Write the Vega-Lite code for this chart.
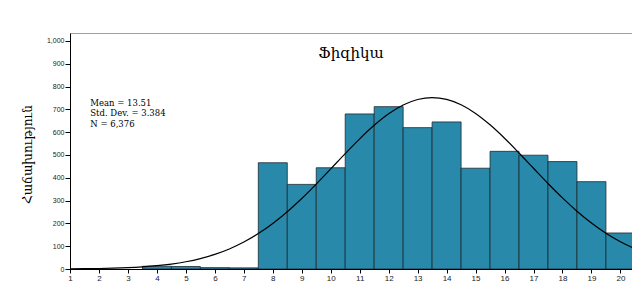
{
  "$schema": "https://vega.github.io/schema/vega-lite/v6.json",
  "width": 562,
  "height": 236,
  "autosize": {"type": "none"},
  "padding": {"left": 70, "top": 33, "right": 0, "bottom": 18},
  "background": "white",
  "config": {
    "view": {"stroke": "#a0a0a0", "strokeWidth": 1},
    "axisX": {"title": null, "grid": false,
      "domainColor": "black", "tickColor": "black", "tickSize": 4, "labelFont": "Liberation Sans", "labelFontSize": 8,
      "labelColor": "#222", "labelPadding": 1, "labelFlush": false, "labelOverlap": false, "labelBound": false},
    "axisY": {"grid": false,
      "titleFont": "DejaVu Serif", "titleFontSize": 12, "titleFontWeight": "normal",
      "titleColor": "black", "titleX": -43, "titleY": 121, "titleBaseline": "middle",
      "domainColor": "black", "tickColor": "black", "tickSize": 5, "labelFont": "Liberation Sans", "labelFontSize": 7,
      "labelColor": "#222", "labelPadding": 1, "labelOverlap": false, "labelBound": false}
  },
  "title": {"text": "Ֆիզիկա", "font": "DejaVu Serif", "fontSize": 15, "fontWeight": "normal", "color": "black", "offset": -35, "baseline": "middle", "anchor": "middle"},
  "datasets": {
    "bins": [
      {"lo": 3.5, "hi": 4.5, "count": 12},
      {"lo": 4.5, "hi": 5.5, "count": 11},
      {"lo": 5.5, "hi": 6.5, "count": 6},
      {"lo": 6.5, "hi": 7.5, "count": 5},
      {"lo": 7.5, "hi": 8.5, "count": 466},
      {"lo": 8.5, "hi": 9.5, "count": 371},
      {"lo": 9.5, "hi": 10.5, "count": 444},
      {"lo": 10.5, "hi": 11.5, "count": 680},
      {"lo": 11.5, "hi": 12.5, "count": 712},
      {"lo": 12.5, "hi": 13.5, "count": 620},
      {"lo": 13.5, "hi": 14.5, "count": 645},
      {"lo": 14.5, "hi": 15.5, "count": 442},
      {"lo": 15.5, "hi": 16.5, "count": 516},
      {"lo": 16.5, "hi": 17.5, "count": 499},
      {"lo": 17.5, "hi": 18.5, "count": 471},
      {"lo": 18.5, "hi": 19.5, "count": 383},
      {"lo": 19.5, "hi": 20.5, "count": 158}
    ],
    "curve": [
      {"x": 1, "y": 0.8}, {"x": 1.5, "y": 1.4}, {"x": 2, "y": 2.3}, {"x": 2.5, "y": 3.8},
      {"x": 3, "y": 6.0}, {"x": 3.5, "y": 9.5}, {"x": 4, "y": 14.5}, {"x": 4.5, "y": 21.7},
      {"x": 5, "y": 31.8}, {"x": 5.5, "y": 45.7}, {"x": 6, "y": 64.1}, {"x": 6.5, "y": 87.9},
      {"x": 7, "y": 118.2}, {"x": 7.5, "y": 155.3}, {"x": 8, "y": 199.7}, {"x": 8.5, "y": 251.2},
      {"x": 9, "y": 309.3}, {"x": 9.5, "y": 372.5}, {"x": 10, "y": 439.0}, {"x": 10.5, "y": 506.1},
      {"x": 11, "y": 570.9}, {"x": 11.5, "y": 630.1}, {"x": 12, "y": 680.5}, {"x": 12.5, "y": 719.0},
      {"x": 13, "y": 743.2}, {"x": 13.5, "y": 751.7}, {"x": 14, "y": 743.9}, {"x": 14.5, "y": 720.2},
      {"x": 15, "y": 682.3}, {"x": 15.5, "y": 632.3}, {"x": 16, "y": 573.4}, {"x": 16.5, "y": 508.8},
      {"x": 17, "y": 441.7}, {"x": 17.5, "y": 375.1}, {"x": 18, "y": 311.7}, {"x": 18.5, "y": 253.4},
      {"x": 19, "y": 201.6}, {"x": 19.5, "y": 156.9}, {"x": 20, "y": 119.5}, {"x": 20.5, "y": 89.0},
      {"x": 21, "y": 64.9}
    ],
    "stats": [
      {"x": 1.7, "y": 726, "label": "Mean = 13.51"},
      {"x": 1.7, "y": 682, "label": "Std. Dev. = 3.384"},
      {"x": 1.7, "y": 638, "label": "N = 6,376"}
    ]
  },
  "layer": [
    {
      "data": {"name": "bins"},
      "mark": {"type": "rect", "fill": "#2889ab", "stroke": "#1c2a30", "strokeWidth": 0.8, "clip": true},
      "encoding": {
        "x": {"field": "lo", "type": "quantitative",
          "scale": {"domain": [1, 20.4], "nice": false, "zero": false},
          "axis": {"values": [1,2,3,4,5,6,7,8,9,10,11,12,13,14,15,16,17,18,19,20]}},
        "x2": {"field": "hi"},
        "y": {"field": "count", "type": "quantitative",
          "scale": {"domain": [0, 1035], "nice": false},
          "axis": {"title": "Հաճախություն", "format": ",d", "values": [0,100,200,300,400,500,600,700,800,900,1000]}},
        "y2": {"datum": 0}
      }
    },
    {
      "data": {"name": "curve"},
      "mark": {"type": "line", "color": "black", "strokeWidth": 1.2, "interpolate": "monotone", "clip": true},
      "encoding": {
        "x": {"field": "x", "type": "quantitative", "axis": {"values": [1,2,3,4,5,6,7,8,9,10,11,12,13,14,15,16,17,18,19,20]}},
        "y": {"field": "y", "type": "quantitative", "axis": {"title": "Հաճախություն", "format": ",d", "values": [0,100,200,300,400,500,600,700,800,900,1000]}}
      }
    },
    {
      "data": {"name": "stats"},
      "mark": {"type": "text", "align": "left", "baseline": "middle", "font": "DejaVu Serif", "fontSize": 8.5, "color": "black"},
      "encoding": {
        "x": {"field": "x", "type": "quantitative", "axis": {"values": [1,2,3,4,5,6,7,8,9,10,11,12,13,14,15,16,17,18,19,20]}},
        "y": {"field": "y", "type": "quantitative", "axis": {"title": "Հաճախություն", "format": ",d", "values": [0,100,200,300,400,500,600,700,800,900,1000]}},
        "text": {"field": "label"}
      }
    }
  ]
}
